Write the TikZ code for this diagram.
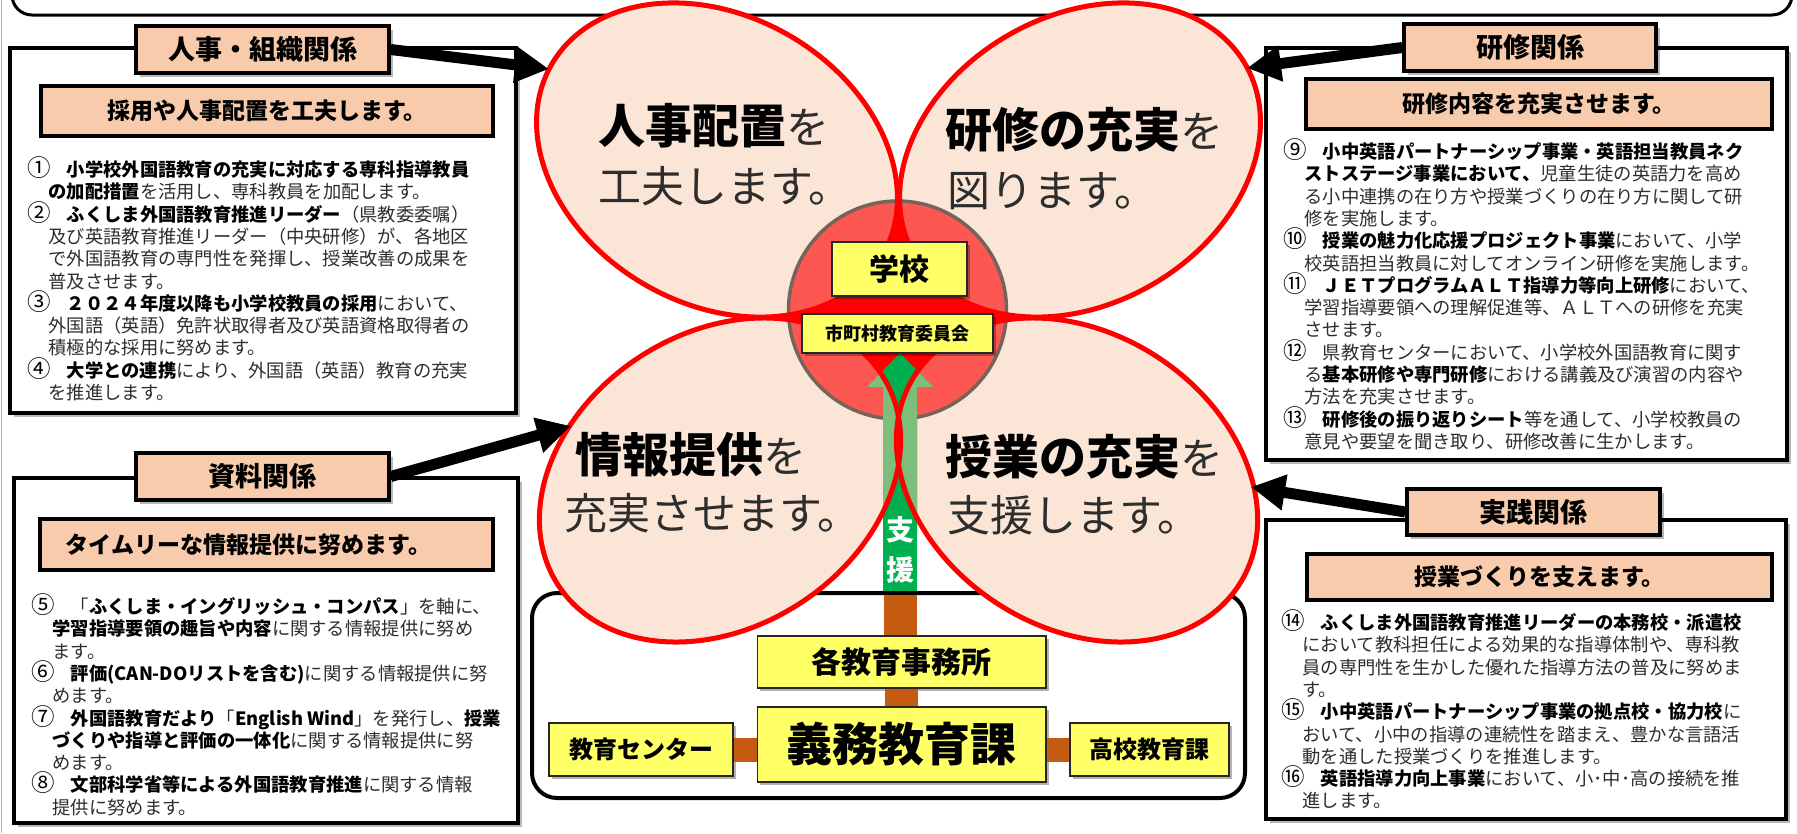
\documentclass[tikz,border=0pt]{standalone}
\usepackage{fontspec}
\setmainfont{Noto Sans CJK JP}
\usetikzlibrary{arrows.meta,shadows}
\definecolor{peach}{HTML}{FBE5D6}
\definecolor{tpeach}{HTML}{F8CBAD}
\definecolor{dgreen}{HTML}{00B050}
\definecolor{lgreen}{RGB}{125,190,125}
\definecolor{yel}{HTML}{FFFF66}
\definecolor{brn}{HTML}{C55A11}
\definecolor{cedge}{RGB}{118,100,90}
\definecolor{txtgray}{RGB}{45,45,45}
\newcommand\fs[2]{\fontsize{#1}{#2}\selectfont}
\newcommand\bld[1]{\textcolor{black}{\bfseries #1}}
\newcommand\nm[1]{\makebox[18.3pt][c]{\textcolor{black}{\fontsize{23.5}{22.3}\selectfont #1}}}
\begin{document}
\begin{tikzpicture}[x=1pt,y=-1pt,
 shadowed/.style={drop shadow={shadow xshift=4pt,shadow yshift=-4pt,opacity=0.28,fill=black}},
 outerbox/.style={draw=black,line width=3.5pt,fill=white,inner sep=0pt,shadowed},
 titlebox/.style={draw=black,line width=3.5pt,fill=tpeach,inner sep=0pt,shadowed,font=\fs{27}{30}\bfseries},
 subbox/.style={draw=black,line width=3.5pt,fill=tpeach,inner sep=0pt,font=\fs{23}{26}\bfseries},
 ybox/.style={draw=black!85,line width=1.5pt,fill=yel,inner sep=0pt,drop shadow={shadow xshift=2.5pt,shadow yshift=-2.5pt,opacity=0.3,fill=black}},
 bodytext/.style={anchor=north west,inner sep=0pt,align=left,font=\fs{18.3}{22.3},text=txtgray},
 petaltext/.style={anchor=base west,inner sep=0pt,text=black},
 bigarrow/.style={line width=11pt,-{Triangle[length=34pt,width=34pt]}},
 conn/.style={brn,line width=33pt},
 hconn/.style={brn,line width=24pt}]

\useasboundingbox (0,0) rectangle (1797,833);
\fill[white] (0,0) rectangle (1797,833);
\draw[gray!60,line width=1.5pt] (1.5,0) -- (1.5,833);
\draw[line width=3pt,rounded corners=20pt,fill=white] (12,-40) rectangle (1792,15);

% ---------- side boxes ----------
\node[outerbox,minimum width=506pt,minimum height=365pt] (b1) at (263,230.5) {};
\node[outerbox,minimum width=504pt,minimum height=345pt] (b2) at (266,650.5) {};
\node[outerbox,minimum width=521pt,minimum height=412pt] (b3) at (1526.5,254) {};
\node[outerbox,minimum width=520pt,minimum height=299pt] (b4) at (1526,669.5) {};

\node[titlebox,minimum width=253pt,minimum height=47pt] (t1) at (262.5,49.5) {人事・組織関係};
\node[titlebox,minimum width=253pt,minimum height=47pt] (t2) at (262.5,476.5) {資料関係};
\node[titlebox,minimum width=252pt,minimum height=47pt] (t3) at (1530,47.5) {研修関係};
\node[titlebox,minimum width=253pt,minimum height=46pt] (t4) at (1533.5,512) {実践関係};

\node[subbox,minimum width=452pt,minimum height=50pt] (s1) at (267,111) {採用や人事配置を工夫します。};
\node[subbox,minimum width=453pt,minimum height=51pt] (s2) at (266.5,544.5) {タイムリーな情報提供に努めます。\hspace*{36pt}};
\node[subbox,minimum width=466pt,minimum height=50pt] (s3) at (1539,104) {研修内容を充実させます。};
\node[subbox,minimum width=465pt,minimum height=46pt] (s4) at (1539.5,577) {授業づくりを支えます。};

\node[bodytext] (x1) at (30,156.5) {\nm{①}　\bld{小学校外国語教育の充実に対応する専科指導教員}\\
　\bld{の加配措置}を活用し、専科教員を加配します。\\
\nm{②}　\bld{ふくしま外国語教育推進リーダー}（県教委委嘱）\\
　及び英語教育推進リーダー（中央研修）が、各地区\\
　で外国語教育の専門性を発揮し、授業改善の成果を\\
　普及させます。\\
\nm{③}　\bld{２０２４年度以降も小学校教員の採用}において、\\
　外国語（英語）免許状取得者及び英語資格取得者の\\
　積極的な採用に努めます。\\
\nm{④}　\bld{大学との連携}により、外国語（英語）教育の充実\\
　を推進します。};

\node[bodytext] (x2) at (34,593.5) {\nm{⑤}　「\bld{ふくしま・イングリッシュ・コンパス}」を軸に、\\
　\bld{学習指導要領の趣旨や内容}に関する情報提供に努め\\
　ます。\\
\nm{⑥}　\bld{評価(CAN-DOリストを含む)}に関する情報提供に努\\
　めます。\\
\nm{⑦}　\bld{外国語教育だより}「\bld{English Wind}」を発行し、\bld{授業}\\
　\bld{づくりや指導と評価の一体化}に関する情報提供に努\\
　めます。\\
\nm{⑧}　\bld{文部科学省等による外国語教育推進}に関する情報\\
　提供に努めます。};

\node[bodytext] (x3) at (1286,138.5) {\nm{⑨}　\bld{小中英語パートナーシップ事業・英語担当教員ネク}\\
　\bld{ストステージ事業において、}児童生徒の英語力を高め\\
　る小中連携の在り方や授業づくりの在り方に関して研\\
　修を実施します。\\
\nm{⑩}　\bld{授業の魅力化応援プロジェクト事業}において、小学\\
　校英語担当教員に対してオンライン研修を実施します。\\
\nm{⑪}　\bld{ＪＥＴプログラムＡＬＴ指導力等向上研修}において、\\
　学習指導要領への理解促進等、ＡＬＴへの研修を充実\\
　させます。\\
\nm{⑫}　県教育センターにおいて、小学校外国語教育に関す\\
　る\bld{基本研修や専門研修}における講義及び演習の内容や\\
　方法を充実させます。\\
\nm{⑬}　\bld{研修後の振り返りシート}等を通して、小学校教員の\\
　意見や要望を聞き取り、研修改善に生かします。};

\node[bodytext] (x4) at (1284,609.5) {\nm{⑭}　\bld{ふくしま外国語教育推進リーダーの本務校・派遣校}\\
　において教科担任による効果的な指導体制や、専科教\\
　員の専門性を生かした優れた指導方法の普及に努めま\\
　す。\\
\nm{⑮}　\bld{小中英語パートナーシップ事業の拠点校・協力校}に\\
　おいて、小中の指導の連続性を踏まえ、豊かな言語活\\
　動を通した授業づくりを推進します。\\
\nm{⑯}　\bld{英語指導力向上事業}において、小･中･高の接続を推\\
　進します。};

% ---------- lower frame ----------
\draw[line width=4pt,rounded corners=25pt,fill=white] (532,593) rectangle (1245,798);

% ---------- flower ----------
\fill[red] (897.5,310) circle[radius=118];
\foreach \c/\r/\a/\b in {{717,160}/-30/191/144,{1080,160}/30/191/144,{720,480}/33/193/147,{1077,480}/-33/193/147}
  {\fill[peach,rotate around={\r:(\c)}] (\c) ellipse[x radius=\a,y radius=\b];}
\fill[red,opacity=0.62] (897.5,310) circle[radius=109];
\draw[cedge,line width=3.5pt] (897.5,310) circle[radius=109];
\fill[dgreen] (883,591) -- (883,387) -- (867,387) -- (900,353) -- (933,387) -- (917,387) -- (917,591) -- cycle;
\foreach \c/\r/\a/\b in {{717,160}/-30/191/144,{1080,160}/30/191/144,{720,480}/33/193/147,{1077,480}/-33/193/147}
  {\begin{scope}
   \clip[rotate around={\r:(\c)}] (\c) ellipse[x radius=\a,y radius=\b];
   \fill[lgreen] (883,591) -- (883,387) -- (867,387) -- (900,353) -- (933,387) -- (917,387) -- (917,591) -- cycle;
   \end{scope}}
\foreach \c/\r/\a/\b in {{717,160}/-30/191/144,{1080,160}/30/191/144,{720,480}/33/193/147,{1077,480}/-33/193/147}
  {\draw[red,line width=5pt,rotate around={\r:(\c)}] (\c) ellipse[x radius=\a,y radius=\b];}

\node[ybox,minimum width=135pt,minimum height=54pt,font=\fs{30}{32}\bfseries] (gakko) at (899.5,269) {学校};
\node[ybox,minimum width=191pt,minimum height=39pt,font=\fs{18}{20}\bfseries] (shicho) at (897.5,333.5) {市町村教育委員会};

\node[font=\fs{28}{40}\bfseries,text=white,align=center,inner sep=0pt] (shien) at (900,550) {支\\援};

% ---------- petal texts ----------
\node[petaltext] (p1a) at (598,143) {\fs{47}{50}\bfseries 人事配置\fs{43}{50}\mdseries\textcolor{txtgray}{を}};
\node[petaltext] (p1b) at (598,202) {\fs{43}{50}\textcolor{txtgray}{工夫します。}};
\node[petaltext] (p2a) at (945,147) {\fs{47}{50}\bfseries 研修の充実\fs{43}{50}\mdseries\textcolor{txtgray}{を}};
\node[petaltext] (p2b) at (947,206) {\fs{43}{50}\textcolor{txtgray}{図ります。}};
\node[petaltext] (p3a) at (575,472) {\fs{47}{50}\bfseries 情報提供\fs{43}{50}\mdseries\textcolor{txtgray}{を}};
\node[petaltext] (p3b) at (564,529) {\fs{43}{50}\textcolor{txtgray}{充実させます。}};
\node[petaltext] (p4a) at (945,474) {\fs{47}{50}\bfseries 授業の充実\fs{43}{50}\mdseries\textcolor{txtgray}{を}};
\node[petaltext] (p4b) at (947,531) {\fs{43}{50}\textcolor{txtgray}{支援します。}};

% ---------- lower boxes ----------
\node[ybox,minimum width=288.5pt,minimum height=52pt,font=\fs{30}{32}\bfseries] (kaku) at (901.75,662) {各教育事務所};
\node[ybox,minimum width=288.5pt,minimum height=75pt,font=\fs{46}{48}\bfseries] (gimu) at (901.75,744.5) {義務教育課};
\node[ybox,minimum width=184pt,minimum height=53pt,font=\fs{24}{26}\bfseries] (kcenter) at (641,749.5) {教育センター};
\node[ybox,minimum width=159pt,minimum height=53pt,font=\fs{24}{26}\bfseries] (koukou) at (1149.5,749.5) {高校教育課};
\coordinate (lbtop) at (900.5,595);
\draw[conn] (lbtop) -- (lbtop |- kaku.north);
\draw[conn] (kaku.south) -- (gimu.north);
\draw[hconn] (kcenter.east) -- (kcenter.east -| gimu.west);
\draw[hconn] (gimu.east |- koukou.west) -- (koukou.west);

% ---------- black arrows ----------
\coordinate (a1) at (549,69);
\coordinate (a2) at (571,426);
\coordinate (a3) at (1247,68);
\coordinate (a4) at (1251,487);
\draw[bigarrow] (t1.east) -- (a1);
\draw[bigarrow] (t2.east) -- (a2);
\draw[bigarrow] (t3.west) -- (a3);
\draw[bigarrow] (t4.west) -- (a4);
\end{tikzpicture}
\end{document}
